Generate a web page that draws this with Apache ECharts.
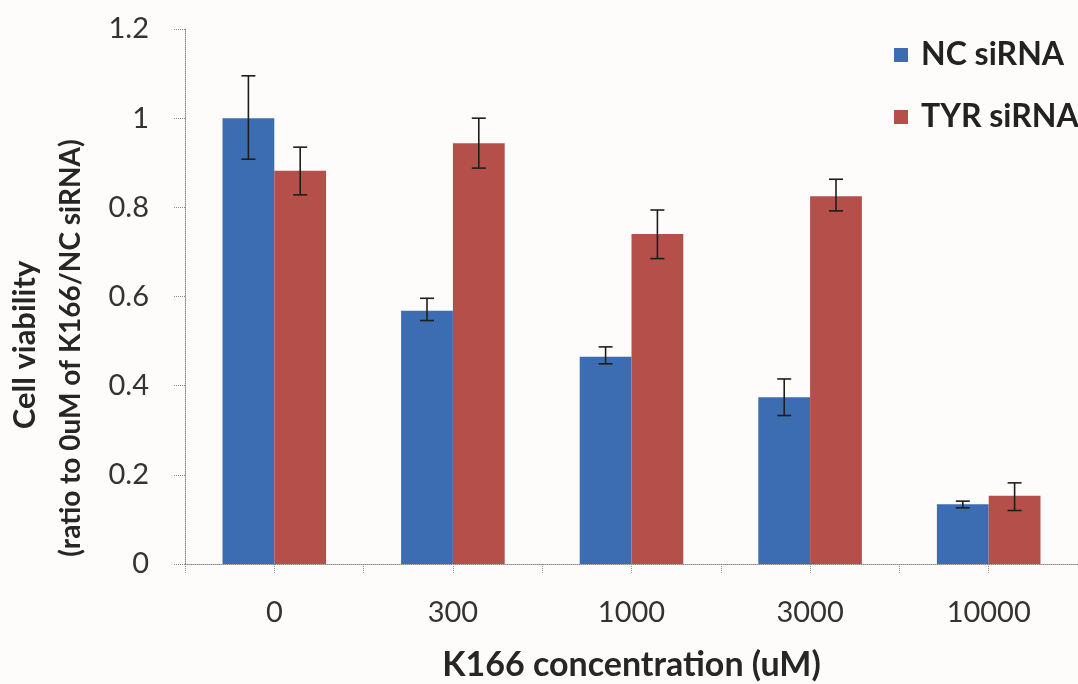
<!DOCTYPE html>
<html>
<head>
<meta charset="utf-8">
<script src="https://cdn.jsdelivr.net/npm/echarts@6/dist/echarts.min.js"></script>
<style>
    html, body {
        margin: 0;
        padding: 0;
        background: #fdfcfa;
    }

    #chart {
        width: 1078px;
        height: 684px;
    }
</style>
</head>
<body>
<div id="chart"></div>
<script>
// 数据
const categories = ['0', '300', '1000', '3000', '10000'];
const ncValues = [1.0, 0.568, 0.465, 0.374, 0.134];
const ncErrLow = [0.908, 0.546, 0.449, 0.333, 0.126];
const ncErrHigh = [1.095, 0.596, 0.487, 0.415, 0.141];
const tyrValues = [0.882, 0.944, 0.740, 0.825, 0.153];
const tyrErrLow = [0.828, 0.888, 0.685, 0.792, 0.120];
const tyrErrHigh = [0.935, 1.0, 0.794, 0.863, 0.182];
const yTicks = { min: 0, max: 1.2, interval: 0.2 };

const blue = '#3c6db2';
const red = '#b54f4a';
const barShare = 0.29; // 每根柱子占类目宽度的比例

const errorData = (low, high) => categories.map((c, i) => [i, low[i], high[i]]);

// 误差线
const makeErrorSeries = (name, low, high, side) => ({
    name: name + ' err',
    type: 'custom',
    xAxisIndex: 0,
    z: 10,
    silent: true,
    data: errorData(low, high),
    renderItem: (params, api) => {
        const cat = api.value(0);
        const lo = api.coord([cat, api.value(1)]);
        const hi = api.coord([cat, api.value(2)]);
        const bw = api.size([1, 0])[0] * barShare;
        const x = lo[0] + side * bw / 2;
        const cap = 7;
        const style = { stroke: '#1e1e1e', lineWidth: 1.6 };
        return {
            type: 'group',
            children: [
                { type: 'line', shape: { x1: x, y1: lo[1], x2: x, y2: hi[1] }, style: style },
                { type: 'line', shape: { x1: x - cap, y1: hi[1], x2: x + cap, y2: hi[1] }, style: style },
                { type: 'line', shape: { x1: x - cap, y1: lo[1], x2: x + cap, y2: lo[1] }, style: style }
            ]
        };
    }
});

const chart = echarts.init(document.getElementById('chart'));

const option = {
    backgroundColor: '#fdfcfa',
    animation: false,
    textStyle: { fontFamily: 'Lato' },
    grid: {
        left: 185,
        right: 0,
        top: 29,
        bottom: 120,
        outerBoundsMode: 'none'
    },
    legend: {
        orient: 'vertical',
        left: 889,
        top: 34,
        itemWidth: 14,
        itemHeight: 14,
        itemGap: 30,
        icon: 'rect',
        data: ['NC siRNA', 'TYR siRNA'],
        textStyle: {
            fontFamily: 'Lato',
            fontWeight: 'bold',
            fontSize: 32,
            color: '#222',
            padding: [0, 0, 0, 8]
        }
    },
    xAxis: [
        {
            type: 'category',
            data: categories,
            position: 'bottom',
            name: 'K166 concentration (uM)',
            nameLocation: 'middle',
            nameGap: 84,
            nameTextStyle: {
                fontFamily: 'Lato',
                fontWeight: 'bold',
                fontSize: 34,
                color: '#262626'
            },
            axisLine: {
                lineStyle: { color: '#8a8a8a', type: 'dotted', width: 1 }
            },
            axisTick: { show: false },
            axisLabel: {
                margin: 34,
                fontSize: 29,
                color: '#333'
            }
        },
        {
            type: 'category',
            data: ['', '', '', '', '', '', '', '', '', ''],
            position: 'bottom',
            axisLine: { show: false },
            axisLabel: { show: false },
            axisTick: {
                show: true,
                interval: 0,
                length: 10,
                lineStyle: { color: '#8a8a8a', type: 'dotted' }
            }
        }
    ],
    yAxis: {
        type: 'value',
        min: yTicks.min,
        max: yTicks.max,
        interval: yTicks.interval,
        splitLine: { show: false },
        axisLine: {
            show: true,
            lineStyle: { color: '#8a8a8a', type: 'dotted', width: 1 }
        },
        axisTick: {
            show: true,
            length: 11,
            lineStyle: { color: '#8a8a8a', type: 'dotted' }
        },
        axisLabel: {
            margin: 36,
            fontSize: 29,
            color: '#333'
        }
    },
    graphic: [
        {
            type: 'text',
            x: 25,
            y: 345,
            rotation: Math.PI / 2,
            style: {
                text: 'Cell viability',
                fontFamily: 'Lato',
                fontWeight: 'bold',
                fontSize: 31,
                fill: '#262626',
                align: 'center',
                verticalAlign: 'middle'
            }
        },
        {
            type: 'text',
            x: 71,
            y: 348,
            rotation: Math.PI / 2,
            style: {
                text: '(ratio to 0uM of K166/NC siRNA)',
                fontFamily: 'Lato',
                fontWeight: 'bold',
                fontSize: 28,
                fill: '#262626',
                align: 'center',
                verticalAlign: 'middle'
            }
        }
    ],
    series: [
        {
            name: 'NC siRNA',
            type: 'bar',
            data: ncValues,
            barGap: 0,
            barCategoryGap: '42%',
            itemStyle: { color: blue }
        },
        {
            name: 'TYR siRNA',
            type: 'bar',
            data: tyrValues,
            itemStyle: { color: red }
        },
        makeErrorSeries('NC siRNA', ncErrLow, ncErrHigh, -1),
        makeErrorSeries('TYR siRNA', tyrErrLow, tyrErrHigh, 1)
    ]
};

chart.setOption(option);
</script>
</body>
</html>
